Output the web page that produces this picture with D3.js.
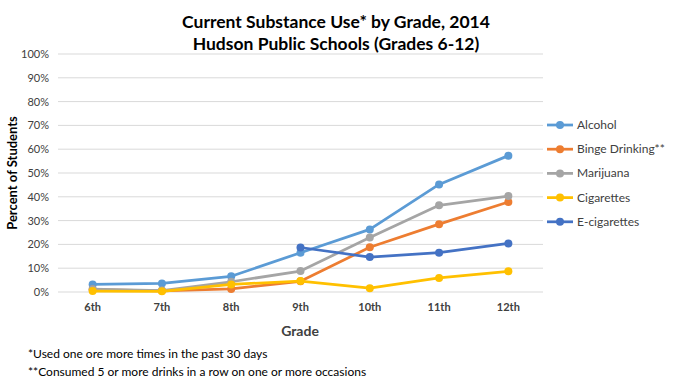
<!DOCTYPE html>
<html><head><meta charset="utf-8">
<script src="https://cdn.jsdelivr.net/npm/d3@7"></script>
<style>body{margin:0;background:#fff;} svg{display:block;font-family:Lato, "Open Sans", sans-serif;}</style>
</head><body>
<svg id="c" width="673" height="387"></svg>
<script>
const grades = ["6th","7th","8th","9th","10th","11th","12th"];
const seriesNames = ["Alcohol","Binge Drinking**","Marijuana","Cigarettes","E-cigarettes"];
const seriesColors = ["#5b9bd5","#ed7d31","#a5a5a5","#ffc000","#4472c4"];
const alcohol = [3.2,3.6,6.6,16.5,26.3,45.2,57.3];
const binge = [1.0,0.5,1.3,4.5,18.8,28.5,37.8];
const marijuana = [1.2,0.6,4.3,8.8,22.9,36.4,40.3];
const cigarettes = [0.4,0.3,3.2,4.6,1.6,5.9,8.7];
const ecig = [null,null,null,18.7,14.7,16.5,20.4];
const yTicks = [0,10,20,30,40,50,60,70,80,90,100];
const seriesValues = [alcohol,binge,marijuana,cigarettes,ecig];

const svg = d3.select("#c");
const x = d3.scaleBand().domain(grades).range([58,543]);
const y = d3.scaleLinear().domain([0,100]).range([292,54]);

// gridlines
svg.append("g").selectAll("line").data(yTicks).join("line")
  .attr("x1",58).attr("x2",543).attr("y1",d=>y(d)).attr("y2",d=>y(d))
  .attr("stroke","#d9d9d9").attr("stroke-width",1);

// y axis labels
const ya = svg.append("g").attr("transform","translate(49,0)")
  .call(d3.axisLeft(y).tickValues(yTicks).tickFormat(d=>d+"%").tickSize(0).tickPadding(0));
ya.select(".domain").remove();
ya.selectAll("text").attr("font-size",11).attr("fill","#404040").attr("font-family","Lato, sans-serif");

// x axis labels
const xa = svg.append("g").attr("transform","translate(0,303)")
  .call(d3.axisBottom(x).tickSize(0).tickPadding(0));
xa.select(".domain").remove();
xa.selectAll("text").attr("font-size",11).attr("font-weight","bold").attr("fill","#404040").attr("font-family","Lato, sans-serif");

// lines
const line = d3.line().defined(d=>d.v!=null).x(d=>x(d.g)+x.bandwidth()/2).y(d=>y(d.v));
seriesValues.forEach((vals,i)=>{
  const pts = grades.map((g,j)=>({g, v: vals[j]}));
  svg.append("path").datum(pts).attr("d",line).attr("fill","none")
    .attr("stroke",seriesColors[i]).attr("stroke-width",2.75).attr("stroke-linejoin","round");
  svg.append("g").selectAll("circle").data(pts.filter(d=>d.v!=null)).join("circle")
    .attr("cx",d=>x(d.g)+x.bandwidth()/2).attr("cy",d=>y(d.v)).attr("r",4)
    .attr("fill",seriesColors[i]);
});

// legend
const lg = svg.append("g");
seriesNames.forEach((n,i)=>{
  const yy = 125 + i*24.2;
  lg.append("line").attr("x1",547).attr("x2",573).attr("y1",yy).attr("y2",yy)
    .attr("stroke",seriesColors[i]).attr("stroke-width",2.75);
  lg.append("circle").attr("cx",560).attr("cy",yy).attr("r",4).attr("fill",seriesColors[i]);
  lg.append("text").attr("x",577).attr("y",yy+4).attr("font-size",12).attr("fill","#404040").text(n);
});

// titles
svg.append("text").attr("x",336).attr("y",28).attr("text-anchor","middle").attr("font-size",17.5).attr("font-weight","bold").attr("fill","#000").text("Current Substance Use* by Grade, 2014");
svg.append("text").attr("x",336).attr("y",50).attr("text-anchor","middle").attr("font-size",17.5).attr("font-weight","bold").attr("fill","#000").text("Hudson Public Schools (Grades 6-12)");
svg.append("text").attr("transform","translate(17,173) rotate(-90)").attr("text-anchor","middle").attr("font-size",13).attr("font-weight","bold").attr("fill","#000").text("Percent of Students");
svg.append("text").attr("x",300).attr("y",336).attr("text-anchor","middle").attr("font-size",14).attr("font-weight","bold").attr("fill","#404040").text("Grade");
svg.append("text").attr("x",28).attr("y",358).attr("font-size",12).attr("fill","#000").text("*Used one ore more times in the past 30 days");
svg.append("text").attr("x",28).attr("y",376).attr("font-size",12).attr("fill","#000").text("**Consumed 5 or more drinks in a row on one or more occasions");
</script>
</body></html>
